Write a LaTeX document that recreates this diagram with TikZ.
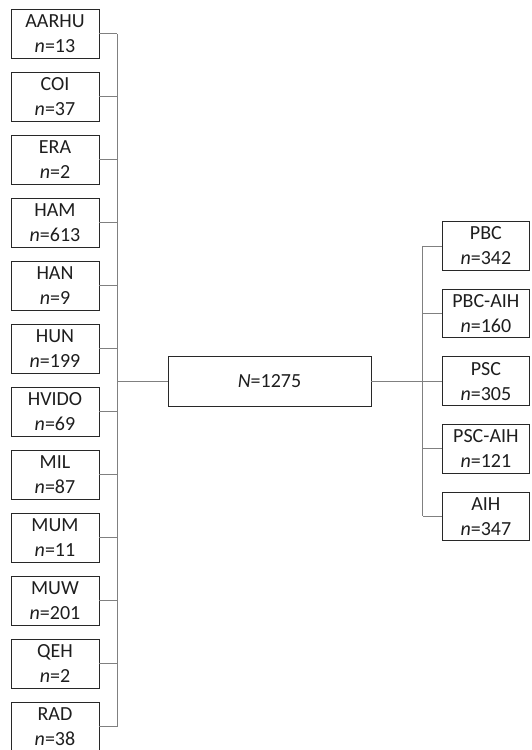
\documentclass[tikz,border=0pt]{standalone}
\usepackage{fontspec}
\setmainfont{Carlito}
\definecolor{boxline}{RGB}{40,40,40}
\definecolor{connline}{RGB}{128,128,128}
\definecolor{txt}{RGB}{30,30,30}
\begin{document}
\begin{tikzpicture}[x=1pt,y=-1pt,
  cbox/.style={draw=boxline,line width=0.9pt,rectangle,inner sep=0pt,
    minimum width=88pt,minimum height=48.5pt,align=center,text=txt,
    font=\fontsize{20}{25}\selectfont},
  rbox/.style={cbox,minimum width=87.2pt},
  nbox/.style={cbox,minimum width=203pt,minimum height=50pt},
  conn/.style={draw=connline,line width=0.8pt}]
\useasboundingbox (0,0) rectangle (531,750);
% left boxes
\node[cbox] (l1)  at (55, 33.75) {AARHU\\\textit{n}=13};
\node[cbox] (l2)  at (55, 96.75) {COI\\\textit{n}=37};
\node[cbox] (l3)  at (55,159.75) {ERA\\\textit{n}=2};
\node[cbox] (l4)  at (55,222.75) {HAM\\\textit{n}=613};
\node[cbox] (l5)  at (55,285.75) {HAN\\\textit{n}=9};
\node[cbox] (l6)  at (55,348.75) {HUN\\\textit{n}=199};
\node[cbox] (l7)  at (55,411.75) {HVIDO\\\textit{n}=69};
\node[cbox] (l8)  at (55,474.75) {MIL\\\textit{n}=87};
\node[cbox] (l9)  at (55,537.75) {MUM\\\textit{n}=11};
\node[cbox] (l10) at (55,600.75) {MUW\\\textit{n}=201};
\node[cbox] (l11) at (55,663.75) {QEH\\\textit{n}=2};
\node[cbox] (l12) at (55,726.75) {RAD\\\textit{n}=38};
% central box
\node[nbox] (N) at (269.5,381) {\textit{N}=1275};
% right boxes
\node[rbox] (r1) at (485.9,245.95) {PBC\\\textit{n}=342};
\node[rbox] (r2) at (485.9,313.55) {PBC-AIH\\\textit{n}=160};
\node[rbox] (r3) at (485.9,381.15) {PSC\\\textit{n}=305};
\node[rbox] (r4) at (485.9,448.75) {PSC-AIH\\\textit{n}=121};
\node[rbox] (r5) at (485.9,516.35) {AIH\\\textit{n}=347};
% bus coordinates
\coordinate (vl) at (117.3,0);
\coordinate (vr) at (422.7,0);
% left connectors
\foreach \i in {1,...,12}{
  \draw[conn] (l\i.east) -- (l\i.east -| vl);
}
\draw[conn] (l1.east -| vl) -- (l12.east -| vl);
\draw[conn] (N.west) -- (N.west -| vl);
% right connectors
\foreach \i in {1,...,5}{
  \draw[conn] (r\i.west) -- (r\i.west -| vr);
}
\draw[conn] (r1.west -| vr) -- (r5.west -| vr);
\draw[conn] (N.east) -- (N.east -| vr);
\end{tikzpicture}
\end{document}
